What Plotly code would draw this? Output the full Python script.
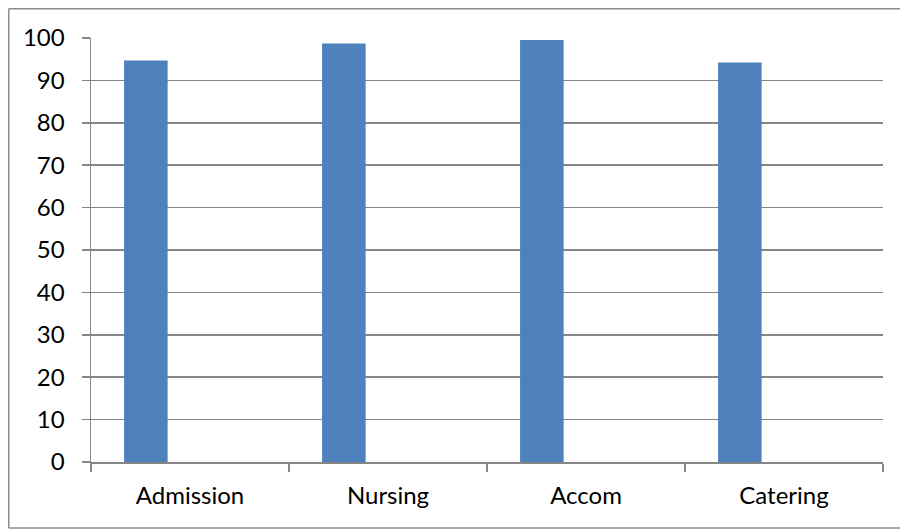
import plotly.graph_objects as go

categories = ["Admission", "Nursing", "Accom", "Catering"]
values = [94.7, 98.7, 99.5, 94.2]
y_ticks = [0, 10, 20, 30, 40, 50, 60, 70, 80, 90, 100]

W, H = 900, 529
ML, MT = 91, 38
PR, PB = 883, 462          # plot right / bottom in px
MR, MB = W - PR, H - PB
pw, ph = W - ML - MR, H - MT - MB
grid = "#868686"
font = dict(family="Lato, 'Open Sans', sans-serif", size=24, color="#000000")

fig = go.Figure()
fig.add_trace(go.Bar(
    x=categories, y=values,
    marker=dict(color="#4F81BD", line=dict(width=0)),
    width=0.22, offset=-0.333,
    showlegend=False,
    hoverinfo="skip",
))

bx0 = (8.75 - ML) / pw
bx1 = (W + 20 - ML) / pw
by0 = -(528 - PB) / ph
by1 = 1 + (MT - 8.75) / ph
border = dict(color="#8c8c8c", width=1.5)

fig.update_layout(
    width=W, height=H,
    margin=dict(l=ML, r=MR, t=MT, b=MB, pad=0, autoexpand=False),
    paper_bgcolor="white", plot_bgcolor="white",
    font=font,
    hovermode=False,
    xaxis=dict(
        type="category", range=[-0.5, 3.5], automargin=False,
        showgrid=False, showline=True, linecolor=grid, linewidth=1.5,
        ticks="outside", tickson="boundaries", ticklen=8, tickcolor=grid, tickwidth=1.5,
        ticklabelstandoff=12, tickfont=font, zeroline=False,
    ),
    yaxis=dict(
        range=[0, 100], tickvals=y_ticks, automargin=False,
        showgrid=True, gridcolor=grid, gridwidth=1.5,
        showline=True, linecolor=grid, linewidth=1.5,
        ticks="outside", ticklen=8, tickcolor=grid, tickwidth=1.5,
        ticklabelstandoff=12, tickfont=font, zeroline=False,
    ),
    shapes=[
        dict(type="line", xref="paper", yref="paper", x0=bx0, x1=bx0, y0=by0, y1=by1, line=border, layer="below"),
        dict(type="line", xref="paper", yref="paper", x0=bx0, x1=bx1, y0=by1, y1=by1, line=border, layer="below"),
        dict(type="line", xref="paper", yref="paper", x0=bx0, x1=bx1, y0=by0, y1=by0, line=border, layer="below"),
    ],
)

fig.write_html(
    "out.html",
    config={"displayModeBar": False, "staticPlot": True},
    post_script="document.body.style.margin='0';document.body.style.overflow='hidden';",
)
